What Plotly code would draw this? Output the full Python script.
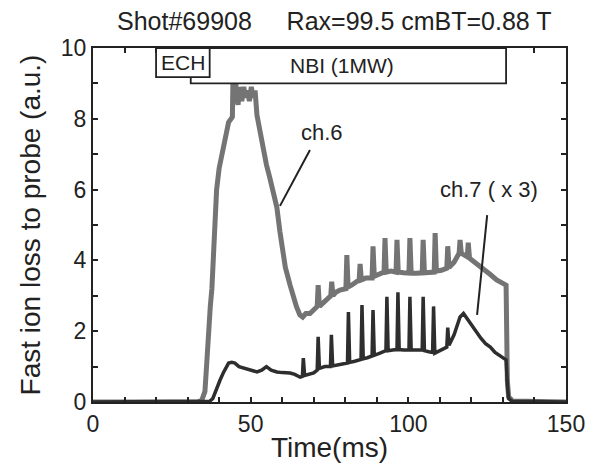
import plotly.graph_objects as go

# ---- data ----
ch6_time = [0, 33, 34.5, 35.5, 36, 36.5, 37.2, 37.7, 38.3, 39.2,
            40, 41, 42, 43, 44.2, 44.5, 45, 45.5, 46, 46.6,
            47.2, 47.8, 48.4, 49, 49.6, 50.2, 50.8, 51.4, 52, 53,
            54, 55, 56, 57, 58.3, 59.3, 60, 61, 62.5, 63.5,
            64.5, 65.6, 66.5, 67, 67.5, 68.8, 70, 71.1, 71.4, 71.8,
            73, 74, 75, 75.4, 75.7, 76.1, 77, 78.3, 80.2, 80.5,
            80.9, 82, 84.4, 84.7, 85.1, 86.5, 88.5, 88.8, 89.2, 90.5,
            92.3, 92.6, 93, 94.5, 96.1, 96.4, 96.8, 98.5, 100.2, 100.5,
            100.9, 102.7, 104.4, 104.7, 105.1, 106.5, 108.2, 108.5, 108.9, 110.5,
            112.2, 112.5, 112.9, 114.5, 116.1, 116.4, 116.8, 118.7, 119, 119.4,
            121.5, 123.7, 126, 128, 130, 131, 131.4, 131.8, 133, 150]
ch6_value = [0, 0, 0.05, 0.3, 1.0, 2.0, 2.7, 3.2, 4.5, 6.0,
             6.6, 7.1, 7.5, 7.9, 8.05, 9.8, 9.6, 8.6, 8.4, 8.9,
             8.5, 8.9, 8.6, 8.8, 8.5, 8.9, 8.6, 8.8, 8.1, 7.6,
             7.1, 6.7, 6.36, 6.0, 5.5, 4.8, 4.4, 3.8, 3.3, 2.97,
             2.7, 2.46, 2.4, 2.45, 2.5, 2.5, 2.6, 2.7, 3.3, 2.7,
             2.8, 2.9, 3.0, 3.0, 3.4, 3.0, 3.1, 3.16, 3.2, 4.15,
             3.25, 3.3, 3.45, 3.9, 3.45, 3.5, 3.5, 4.4, 3.55, 3.6,
             3.67, 4.63, 3.67, 3.7, 3.67, 4.58, 3.67, 3.65, 3.64, 4.63,
             3.64, 3.64, 3.65, 4.58, 3.65, 3.66, 3.67, 4.77, 3.7, 3.72,
             3.78, 4.4, 3.8, 3.95, 4.2, 4.58, 4.2, 4.1, 4.5, 4.06,
             3.9, 3.73, 3.6, 3.45, 3.35, 3.3, 0.6, 0.15, 0.03, 0]

ch7_time = [0, 35, 37, 38, 39.3, 40.3, 41.3, 42, 43, 44,
            45, 46.3, 47.6, 49, 50.5, 52, 53.5, 55, 56.5, 58.3,
            60, 62.5, 64, 65.7, 66.4, 66.7, 67.1, 68.5, 70, 71.1,
            71.4, 71.8, 73.5, 75.3, 75.6, 76, 77.5, 79, 80.7, 81,
            81.4, 83, 85, 85.3, 85.7, 87, 88.5, 88.8, 89.2, 91,
            92.9, 93.2, 93.6, 95, 96.4, 96.7, 97.1, 98.5, 100.2, 100.5,
            100.9, 102.7, 104.4, 104.7, 105.1, 106.5, 107.7, 108, 108.4, 110,
            112.2, 112.5, 112.9, 114.5, 116.4, 117.5, 119, 120.5, 121.7, 123,
            124.5, 126, 127.5, 129, 130.5, 131, 131.4, 131.8, 133, 150]
ch7_value = [0, 0, 0.02, 0.1, 0.42, 0.62, 0.82, 0.95, 1.1, 1.12,
             1.1, 1.0, 0.96, 0.92, 0.88, 0.85, 0.9, 1.0, 0.9, 0.85,
             0.83, 0.82, 0.78, 0.7, 0.72, 1.24, 0.75, 0.78, 0.82, 0.9,
             1.84, 0.95, 1.0, 1.0, 1.9, 1.02, 1.05, 1.08, 1.1, 2.54,
             1.12, 1.15, 1.2, 2.74, 1.22, 1.25, 1.3, 2.6, 1.32, 1.38,
             1.45, 2.97, 1.45, 1.47, 1.48, 3.1, 1.48, 1.47, 1.47, 2.97,
             1.47, 1.47, 1.47, 2.97, 1.45, 1.42, 1.4, 2.7, 1.38, 1.45,
             1.55, 2.1, 1.6, 1.9, 2.4, 2.5, 2.3, 2.1, 1.95, 1.8,
             1.65, 1.55, 1.4, 1.3, 1.2, 1.19, 0.5, 0.1, 0.02, 0]

x_tick_values = [0, 50, 100, 150]
y_tick_values = [0, 2, 4, 6, 8, 10]
heating_names = ["NBI (1MW)", "ECH"]
heating_start = [31, 20]
heating_end = [131, 37]
heating_bottom = [9.0, 9.18]
heating_label_x = [79, 28.5]

FONT = "Liberation Sans, Arial, sans-serif"
INK = "#222222"

fig = go.Figure()
fig.add_trace(go.Scatter(x=ch6_time, y=ch6_value, mode="lines",
                         line=dict(color="#747474", width=5), name="ch.6"))
fig.add_trace(go.Scatter(x=ch7_time, y=ch7_value, mode="lines",
                         line=dict(color="#2e2e2e", width=3.5), name="ch.7 (x3)"))

# heating boxes (white-filled, drawn above traces)
for name, x0, x1, y0, lx in zip(heating_names, heating_start, heating_end,
                                heating_bottom, heating_label_x):
    fig.add_shape(type="rect", xref="x", yref="y", x0=x0, x1=x1, y0=y0, y1=10,
                  fillcolor="white", line=dict(color=INK, width=1.8), layer="above")
    fig.add_annotation(x=lx, y=(y0 + 10) / 2, text=name, showarrow=False,
                       font=dict(family=FONT, size=21, color=INK))

# channel labels and pointer lines
fig.add_shape(type="line", xref="x", yref="y", x0=68.8, y0=7.12, x1=59.3, y1=5.54,
              line=dict(color=INK, width=2))
fig.add_annotation(x=72.6, y=7.6, text="ch.6", showarrow=False,
                   font=dict(family=FONT, size=22, color=INK))
fig.add_shape(type="line", xref="x", yref="y", x0=125, y0=5.28, x1=121.8, y1=2.46,
              line=dict(color=INK, width=2))
fig.add_annotation(x=125.6, y=6.0, text="ch.7 ( x 3)", showarrow=False,
                   font=dict(family=FONT, size=22, color=INK))

# title
fig.add_annotation(xref="paper", yref="paper", x=(115 - 93) / 473, y=1.0, yshift=27,
                   xanchor="left", yanchor="middle",
                   text="Shot#69908     Rax=99.5 cmBT=0.88 T", showarrow=False,
                   font=dict(family=FONT, size=25, color=INK))

axis_common = dict(showline=True, linewidth=2, linecolor=INK, mirror="ticks",
                   ticks="inside", ticklen=5, tickwidth=1.5, tickcolor=INK,
                   showgrid=False, zeroline=False, automargin=False,
                   tickfont=dict(family=FONT, size=23, color=INK))

fig.update_xaxes(range=[0, 150], tickvals=x_tick_values,
                 minor=dict(dtick=10, ticks="inside", ticklen=5, tickwidth=1.5, tickcolor=INK),
                 title=dict(text="Time(ms)", font=dict(family=FONT, size=28, color=INK), standoff=4),
                 **axis_common)
fig.update_yaxes(range=[0, 10], tickvals=y_tick_values,
                 minor=dict(dtick=1, ticks="inside", ticklen=5, tickwidth=1.5, tickcolor=INK),
                 title=dict(text="Fast ion loss to probe (a.u.)",
                            font=dict(family=FONT, size=28, color=INK), standoff=12),
                 **axis_common)

# page body has an 8px default margin, so the figure is offset by (8, 8)
fig.update_layout(width=593, height=455, showlegend=False,
                  paper_bgcolor="white", plot_bgcolor="white",
                  margin=dict(l=85, r=35, t=40, b=61))

fig.write_html("out.html")
